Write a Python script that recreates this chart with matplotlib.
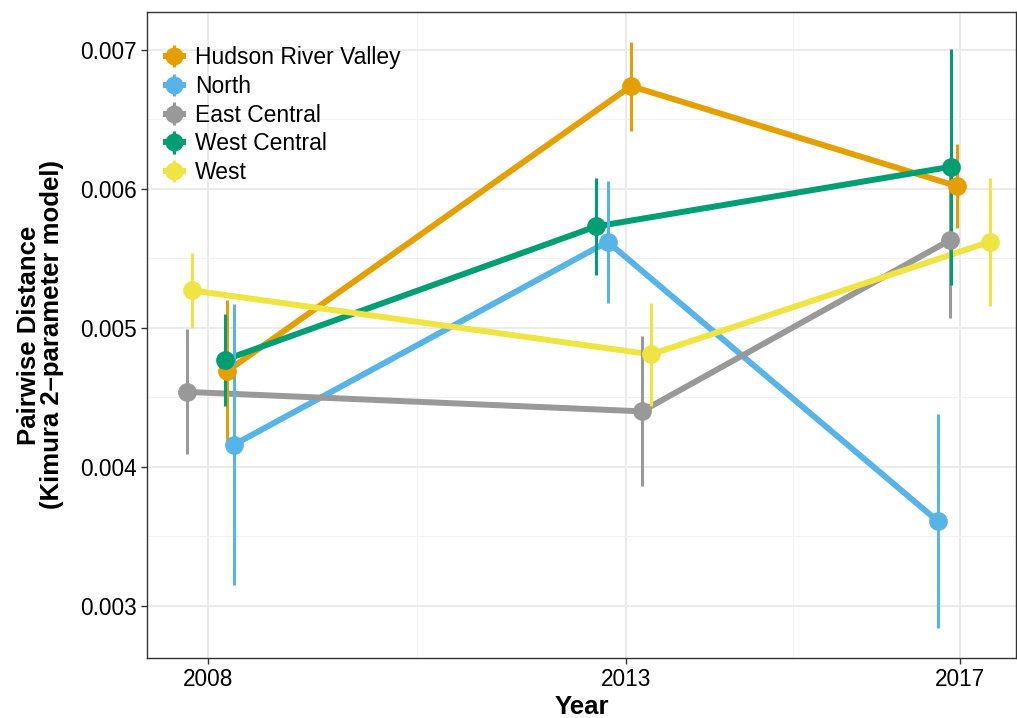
import matplotlib
matplotlib.use("Agg")
import matplotlib.pyplot as plt
from matplotlib.legend_handler import HandlerBase
from matplotlib.lines import Line2D

plt.rcParams['font.family'] = ['Liberation Sans', 'DejaVu Sans']

# Regions and their colours
regions = ["Hudson River Valley", "North", "East Central", "West Central", "West"]
colors = ["#E69F00", "#56B4E9", "#999999", "#009E73", "#F0E442"]

# Sampling years (jittered positions per region)
years_hrv = [2008.23, 2013.06, 2016.96]
years_north = [2008.31, 2012.78, 2016.73]
years_ec = [2007.75, 2013.19, 2016.87]
years_wc = [2008.20, 2012.64, 2016.89]
years_west = [2007.81, 2013.30, 2017.35]

# Mean pairwise distance per year
dist_hrv = [0.00469, 0.00674, 0.00602]
dist_north = [0.00416, 0.00562, 0.00361]
dist_ec = [0.00454, 0.00440, 0.00563]
dist_wc = [0.00477, 0.00573, 0.00616]
dist_west = [0.00527, 0.00481, 0.00562]

# Error half-widths
err_hrv = [0.00051, 0.00032, 0.00030]
err_north = [0.00101, 0.00044, 0.00077]
err_ec = [0.00045, 0.00054, 0.00056]
err_wc = [0.00033, 0.00035, 0.00085]
err_west = [0.00027, 0.00037, 0.00046]

years = [years_hrv, years_north, years_ec, years_wc, years_west]
dists = [dist_hrv, dist_north, dist_ec, dist_wc, dist_west]
errs = [err_hrv, err_north, err_ec, err_wc, err_west]

xticks = [2008, 2013, 2017]
yticks = [0.003, 0.004, 0.005, 0.006, 0.007]

fig = plt.figure(figsize=(10.17, 7.18), dpi=100)
ax = fig.add_axes([0.1445, 0.0836, 0.8545, 0.8997])

for i, (x, y, e, c) in enumerate(zip(years, dists, errs, colors)):
    ax.plot(x, y, color=c, lw=4.3, solid_capstyle='butt', zorder=2 + i * 0.01)
    ax.vlines(x, [v - d for v, d in zip(y, e)], [v + d for v, d in zip(y, e)],
              color=c, lw=2.2, zorder=3 + i * 0.01)
for i, (x, y, c) in enumerate(zip(years, dists, colors)):
    ax.plot(x, y, 'o', color=c, ms=13.5, mec='none', zorder=4 + i * 0.01)

ax.set_xlim(2007.27, 2017.665)
ax.set_ylim(0.002626, 0.007273)
ax.set_xticks(xticks)
ax.set_xticklabels([str(t) for t in xticks])
ax.set_yticks(yticks)
ax.set_yticklabels([f"{t:.3f}" for t in yticks])
ax.set_xticks([2010.5, 2015], minor=True)
ax.set_yticks([0.0035, 0.0045, 0.0055, 0.0065], minor=True)

ax.grid(True, which='major', color='#EBEBEB', lw=1.4, zorder=0)
ax.grid(True, which='minor', color='#F2F2F2', lw=0.8, zorder=0)
ax.set_axisbelow(True)
ax.tick_params(which='minor', length=0)
ax.tick_params(which='major', length=4, width=1, color='#333333', labelsize=16.3,
               labelcolor='black', pad=3)
for s in ax.spines.values():
    s.set_color('#333333')
    s.set_linewidth(1)

ax.set_xlabel("Year", fontsize=18.5, fontweight='bold', labelpad=3)
ax.set_ylabel("Pairwise Distance\n(Kimura 2\u2013parameter model)", fontsize=18.5,
              fontweight='bold', labelpad=12, linespacing=0.95)


class PointRangeHandler(HandlerBase):
    def __init__(self, color):
        super().__init__()
        self.color = color

    def create_artists(self, legend, orig_handle, xdescent, ydescent, width,
                       height, fontsize, trans):
        cx = width / 2 - xdescent
        cy = height / 2 - ydescent
        h = Line2D([0 - xdescent, width - xdescent], [cy, cy], color=self.color,
                   lw=4.3, transform=trans, solid_capstyle='butt')
        v = Line2D([cx, cx], [cy - height * 0.7, cy + height * 0.7], color=self.color,
                   lw=2.2, transform=trans, solid_capstyle='butt')
        p = Line2D([cx], [cy], marker='o', ms=13, color=self.color, mec='none',
                   transform=trans)
        return [h, v, p]


handles = [Line2D([], [], color=c) for c in colors]
handler_map = {h: PointRangeHandler(c) for h, c in zip(handles, colors)}
leg = ax.legend(handles, regions, handler_map=handler_map, loc='upper left',
                bbox_to_anchor=(0.0, 0.972), frameon=False, fontsize=16.5,
                handlelength=1.0, handletextpad=0.4, labelspacing=0.25,
                borderaxespad=0.3)

fig.savefig("out.png", dpi=100)
